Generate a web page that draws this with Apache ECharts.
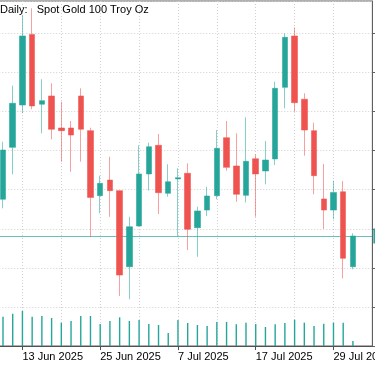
<!DOCTYPE html>
<html>
<head>
<meta charset="utf-8">
<script src="https://cdn.jsdelivr.net/npm/echarts@6/dist/echarts.min.js"></script>
<style>
html,body{margin:0;padding:0;background:#fff;}
#chart{width:375px;height:366px;}
</style>
</head>
<body>
<div id="chart"></div>
<script>
// ---- data ----
var titleText = 'Daily:   Spot Gold 100 Troy Oz';
var leadDates = ['10 Jun 2025'];
var dates = ['11 Jun 2025','12 Jun 2025','13 Jun 2025','16 Jun 2025','17 Jun 2025','18 Jun 2025','19 Jun 2025','20 Jun 2025','23 Jun 2025','24 Jun 2025','25 Jun 2025','26 Jun 2025','27 Jun 2025','30 Jun 2025','1 Jul 2025','2 Jul 2025','3 Jul 2025','4 Jul 2025','7 Jul 2025','8 Jul 2025','9 Jul 2025','10 Jul 2025','11 Jul 2025','14 Jul 2025','15 Jul 2025','16 Jul 2025','17 Jul 2025','18 Jul 2025','21 Jul 2025','22 Jul 2025','23 Jul 2025','24 Jul 2025','25 Jul 2025','28 Jul 2025','29 Jul 2025','30 Jul 2025','31 Jul 2025'];
var trailDates = ['1 Aug 2025','4 Aug 2025'];
var opens  = [3318.9,3352.1,3379.2,3424.4,3379.7,3385.0,3364.5,3364.5,3385.0,3362.8,3321.2,3331.2,3324.4,3275.7,3301.8,3335.1,3353.4,3322.7,3331.9,3335.5,3300.7,3312.0,3321.2,3358.3,3340.2,3321.4,3344.8,3337.0,3344.7,3390.5,3423.4,3382.9,3362.8,3319.1,3312.0,3323.7,3275.7];
var closes = [3350.4,3380.3,3423.4,3378.6,3382.0,3363.7,3362.8,3360.0,3363.7,3320.1,3329.1,3324.4,3270.4,3301.3,3335.1,3352.5,3323.1,3330.1,3332.7,3299.7,3311.4,3321.0,3351.5,3339.3,3322.1,3343.2,3335.1,3344.0,3389.9,3422.5,3380.7,3363.2,3334.0,3312.0,3323.3,3281.1,3295.4];
var lows   = [3313.1,3334.9,3373.9,3376.5,3361.1,3357.3,3342.9,3336.5,3342.9,3294.6,3309.9,3307.7,3257.0,3254.9,3301.4,3324.4,3309.5,3320.5,3295.4,3286.4,3282.1,3308.2,3318.9,3337.2,3317.3,3316.9,3307.7,3328.5,3340.8,3377.1,3374.9,3346.8,3322.1,3299.9,3306.1,3268.3,3274.1];
var highs  = [3355.7,3391.6,3436.8,3441.1,3395.7,3393.1,3381.3,3369.0,3389.9,3364.7,3334.0,3346.1,3324.6,3307.7,3353.4,3355.1,3360.7,3341.3,3338.7,3341.9,3314.1,3326.9,3363.2,3369.0,3361.1,3371.3,3347.7,3356.2,3394.1,3425.1,3428.9,3386.7,3367.9,3341.5,3330.8,3330.6,3297.1];
var volumes = [117200,129200,140000,117200,120000,112000,93200,100000,120000,120000,88000,100000,114800,100000,104000,88000,84000,52000,104000,92000,84000,80000,96000,96000,86800,93200,88000,76000,86800,92000,105200,93200,80000,89200,93200,93200,20000];
var bidPrice = 3295.4;
var priceMin = 3225, priceMax = 3445.76, priceStep = 25;
var volMax = 1380000;

// ---- build ----
var cats = leadDates.concat(dates, trailDates);
var lead = leadDates.length;
var candleData = cats.map(function (d, j) {
  var i = j - lead;
  if (i < 0 || i >= dates.length) return '-';
  return [opens[i], closes[i], lows[i], highs[i]];
});
var volData = cats.map(function (d, j) {
  var i = j - lead;
  if (i < 0 || i >= dates.length) return '-';
  return volumes[i];
});
var firstLabel = lead + 2;

var chart = echarts.init(document.getElementById('chart'), null, {renderer: 'canvas'});
var FONT = '"Liberation Sans", Arial, sans-serif';
chart.setOption({
  animation: false,
  backgroundColor: '#ffffff',
  textStyle: {fontFamily: FONT},
  grid: {
    left: -6.72, right: 2.64, top: 1, bottom: 20,
    containLabel: false, outerBoundsMode: 'none',
    show: true, borderColor: '#606060', borderWidth: 1, backgroundColor: 'transparent'
  },
  graphic: [{
    type: 'text', left: 0, top: 4, z: 100,
    style: {text: titleText, fill: '#000', font: '11px ' + FONT}
  }],
  xAxis: {
    type: 'category', data: cats, boundaryGap: false,
    axisLine: {show: true, lineStyle: {color: '#505050', width: 1}},
    axisTick: {show: true, length: 4, lineStyle: {color: '#505050'},
      interval: function (idx) { return idx >= firstLabel && (idx - firstLabel) % 8 === 0; }},
    axisLabel: {show: true, color: '#000', fontSize: 11, fontFamily: FONT, align: 'left', margin: 5,
      hideOverlap: false,
      interval: function (idx) { return idx >= firstLabel && (idx - firstLabel) % 8 === 0; }},
    splitLine: {show: true, lineStyle: {color: '#d0d0d0', type: [1, 2], width: 1},
      interval: function (idx) { return idx >= firstLabel && (idx - firstLabel) % 4 === 0; }}
  },
  yAxis: [{
    type: 'value', position: 'right', min: priceMin, max: priceMax, interval: priceStep,
    axisLine: {show: true, lineStyle: {color: '#606060'}},
    axisTick: {show: true, length: 3, lineStyle: {color: '#606060'}},
    axisLabel: {show: true, showMaxLabel: false, color: '#000', fontSize: 11, margin: 6,
      formatter: function (v) { return v.toFixed(2); }},
    splitLine: {show: true, lineStyle: {color: '#d0d0d0', type: [1, 2], width: 1}}
  }, {
    type: 'value', min: 0, max: volMax, show: false, splitLine: {show: false}
  }],
  series: [{
    type: 'line', data: [], yAxisIndex: 0, z: 1, silent: true,
    markLine: {
      silent: true, symbol: 'none', z: 1,
      lineStyle: {color: 'rgba(38,166,154,0.7)', type: 'solid', width: 1},
      label: {show: true, position: 'end', distance: 1, backgroundColor: '#26a69a', color: '#fff',
        fontSize: 11, padding: [2, 3], formatter: function () { return bidPrice.toFixed(2); }},
      data: [{yAxis: bidPrice}]
    }
  }, {
    type: 'bar', data: volData, yAxisIndex: 1, barWidth: 1.4, z: 2, silent: true,
    itemStyle: {color: '#26a69a'}
  }, {
    type: 'candlestick', data: candleData, yAxisIndex: 0, barWidth: 6, z: 3, silent: true,
    itemStyle: {
      color: '#26a69a', color0: '#ef5350',
      borderColor: 'rgba(38,166,154,0.55)', borderColor0: 'rgba(239,83,80,0.55)',
      borderWidth: 1
    }
  }]
});
</script>
</body>
</html>
